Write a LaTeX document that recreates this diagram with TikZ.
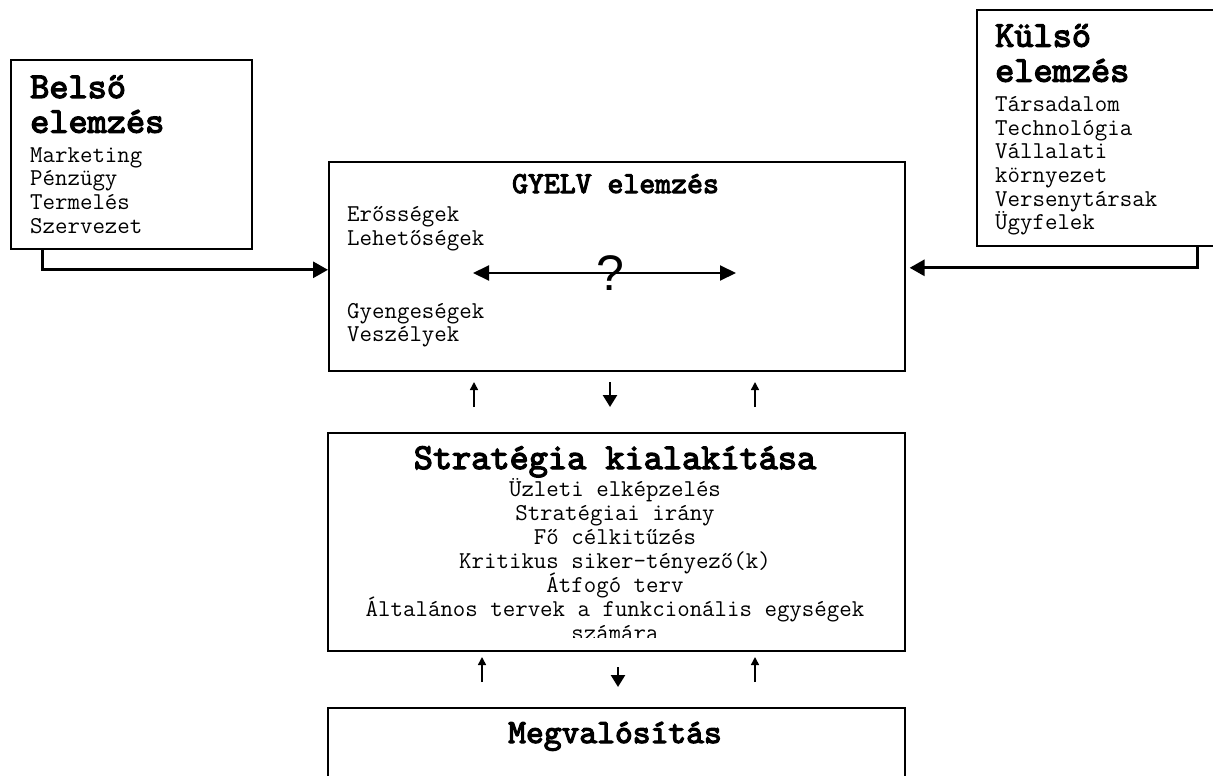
\documentclass[tikz,border=0pt]{standalone}
\usepackage{fontspec}
\newfontfamily\qfont{Liberation Sans}
\newfontfamily\ttlfont{lmmono10-regular.otf}[FakeBold=3.5]
\usetikzlibrary{arrows.meta,calc}

\tikzset{
  box/.style={draw, line width=1.6pt, anchor=north west, inner sep=0pt},
  ttl/.style={font=\ttlfont\fontsize{36.5}{38}\selectfont, inner sep=0pt},
  itm/.style={font=\ttfamily\fontsize{24.2}{24}\selectfont, inner sep=0pt},
  feed/.style={line width=3pt, -{Triangle[length=15pt,width=16pt]}},
  dbl/.style={line width=2pt, {Triangle[length=16pt,width=15pt]}-{Triangle[length=16pt,width=15pt]}},
  upar/.style={line width=1.5pt, -{Triangle[length=8pt,width=8pt]}},
  dnar/.style={line width=2.5pt, -{Triangle[length=12pt,width=14pt]}},
}

\begin{document}
\begin{tikzpicture}[x=1pt,y=-1pt]
\clip (0,0) rectangle (1213,776);

% boxes
\node[box, minimum width=241pt, minimum height=189pt] (belso) at (10,59) {};
\node[box, minimum width=260pt, minimum height=236pt] (kulso) at (976,9) {};
\node[box, minimum width=576pt, minimum height=209pt] (gyelv) at (328,161) {};
\node[box, minimum width=577pt, minimum height=218pt] (strat) at (327,432) {};
\node[box, minimum width=577pt, minimum height=100pt] (megval) at (327,707) {};

% belso elemzes
\node[ttl, anchor=base west] (belsoT1) at (30,98) {Belső};
\node[ttl, anchor=base west] (belsoT2) at (30,132.7) {elemzés};
\foreach \t [count=\i] in {Marketing, Pénzügy, Termelés, Szervezet}
  \node[itm, anchor=base west] (belso\i) at (30,{162+23.7*(\i-1)}) {\t};

% kulso elemzes
\node[ttl, anchor=base west] (kulsoT1) at (995,46.7) {Külső};
\node[ttl, anchor=base west] (kulsoT2) at (995,81.7) {elemzés};
\foreach \t [count=\i] in {Társadalom, Technológia, Vállalati, környezet, Versenytársak, Ügyfelek}
  \node[itm, anchor=base west] (kulso\i) at (995,{111.7+23.6*(\i-1)}) {\t};

% GYELV
\node[ttl, font=\ttlfont\fontsize{30.3}{32}\selectfont, anchor=base] (gyelvT) at (615.5,193) {GYELV elemzés};
\foreach \t/\y [count=\i] in {Erősségek/221.7, Lehetőségek/245, Gyengeségek/318, Veszélyek/341}
  \node[itm, anchor=base west] (gyelv\i) at (347,\y) {\t};
\coordinate (swL) at (473,273);
\coordinate (swR) at (736,273);
\draw[dbl] (swL) -- (swR);
\node[inner sep=0pt, anchor=base, font=\qfont\fontsize{50}{50}\selectfont] (q) at (610,290) {?};

% strategia
\node[ttl, anchor=base] (stratT) at (615,469) {Stratégia kialakítása};
\begin{scope}
  \clip (327,432) rectangle (904,637);
  \foreach \t [count=\i] in {Üzleti elképzelés, Stratégiai irány, Fő célkitűzés, Kritikus siker-tényező(k), Átfogó terv, Általános tervek a funkcionális egységek, számára}
    \node[itm, anchor=base] (strat\i) at (615,{496+24*(\i-1)}) {\t};
\end{scope}

% megvalositas
\node[ttl, font=\ttlfont\fontsize{33.9}{36}\selectfont, anchor=base] (megvalT) at (615,743) {Megvalósítás};

% feeds into GYELV
\draw[feed] ($(belso.south west)+(32,0)$) |- ([yshift=-3.5pt]gyelv.west);
\draw[feed, shorten >=4pt] ($(kulso.south west)+(221,0)$) |- ([yshift=-1.5pt]gyelv.east);

% small arrows between the boxes
\foreach \x/\y [count=\i] in {474/407, 755/407, 482/682, 755/682}
  \coordinate (up\i) at (\x,\y);
\foreach \i in {1,...,4}
  \draw[upar] (up\i) -- ++(0,-25);
\coordinate (dn1) at (610,382);
\coordinate (dn2) at (618,667);
\draw[dnar] (dn1) -- ++(0,25);
\draw[dnar] (dn2) -- ++(0,20);
\end{tikzpicture}
\end{document}
